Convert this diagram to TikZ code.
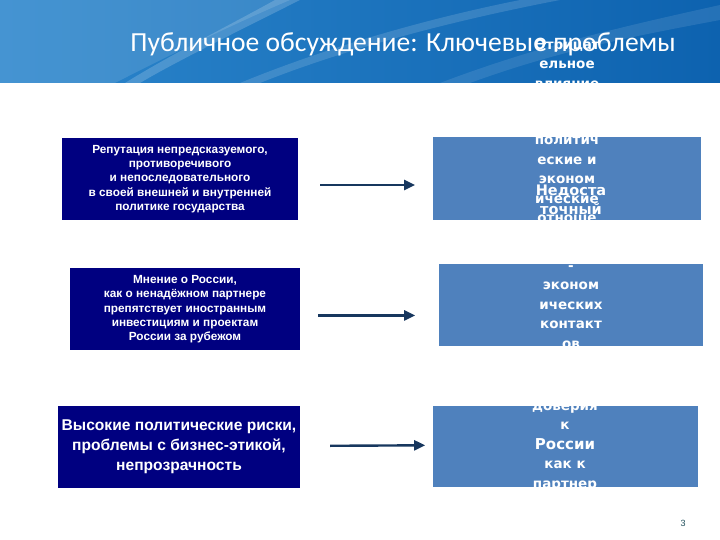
\documentclass[tikz,border=0pt]{standalone}
\usepackage{fontspec}
\usepackage{xcolor}
\usepackage{tikz}
\usetikzlibrary{positioning,arrows.meta}
\newfontfamily\titlefont{Carlito}
\newfontfamily\boxfont{Liberation Sans}
\newfontfamily\spillfont{DejaVu Sans}
\definecolor{bannerdark}{HTML}{0D62AF}
\definecolor{bannerlight}{HTML}{2C86CC}
\definecolor{problemnavy}{HTML}{000080}
\definecolor{effectblue}{HTML}{4F81BD}
\definecolor{arrowblue}{HTML}{17375E}
\definecolor{pagegreen}{HTML}{1F4E5A}

\begin{document}
\begin{tikzpicture}[
  x=1pt, y=-1pt,
  node distance=48pt and 135pt,
  problem/.style={fill=problemnavy, text=white, align=center, inner sep=0pt, minimum height=82pt},
  effect/.style={fill=effectblue, inner sep=0pt, minimum height=82pt},
  spill/.style={text=white, align=center, inner sep=0pt, font=\spillfont\bfseries\fontsize{13.5}{19.4}\selectfont},
  arrow/.style={-{Triangle[length=11pt,width=10pt]}, line width=2.4pt, draw=arrowblue}
]
\useasboundingbox (0,0) rectangle (720,540);

\fill[left color=bannerlight, right color=bannerdark] (0,0) rectangle (720,83);
\fill[white, opacity=0.12] (290,0) .. controls (220,30) and (160,60) .. (115,83) -- (0,83) -- (0,0) -- cycle;
\fill[white, opacity=0.18] (300,0) .. controls (230,35) and (170,65) .. (140,83) -- (125,83) .. controls (170,55) and (230,25) .. (275,0) -- cycle;
\fill[white, opacity=0.14] (560,0) .. controls (430,25) and (330,55) .. (260,83) -- (240,83) .. controls (320,50) and (420,20) .. (520,0) -- cycle;
\fill[white, opacity=0.10] (720,20) .. controls (640,35) and (560,50) .. (470,83) -- (440,83) .. controls (540,45) and (630,25) .. (720,5) -- cycle;
\node[font=\titlefont\fontsize{27.6}{28}\selectfont, text=white, inner sep=0pt] (title) at (403,44) {Публичное обсуждение: Ключевые проблемы};

\node[problem, minimum width=236pt, font=\boxfont\bfseries\fontsize{11.8}{14.4}\selectfont] (rep) at (180,179)
  {Репутация непредсказуемого,\\противоречивого\\и непоследовательного\\в своей внешней и внутренней\\политике государства};
\node[problem, minimum width=230pt, font=\boxfont\bfseries\fontsize{11.8}{14.3}\selectfont, below=48pt of rep, xshift=5pt] (opinion)
  {Мнение о России,\\как о ненадёжном партнере\\препятствует иностранным\\инвестициям и проектам\\России за рубежом};
\node[problem, minimum width=242pt, font=\boxfont\bfseries\fontsize{15.6}{20}\selectfont, below=55pt of opinion, xshift=-6pt] (risks)
  {Высокие политические риски,\\проблемы с бизнес-этикой,\\непрозрачность};

\node[effect, minimum width=268pt, minimum height=83pt, right=135pt of rep] (impact) {};
\node[spill] (impactTop) at (567,64) {Отрицат\\ельное\\влияние};
\node[spill] (impactText) at (567,180) {политич\\еские и\\эконом\\ические\\отноше};
\node[effect, minimum width=264pt, right=139pt of opinion, yshift=4pt] (trade) {};
\node[spill, font=\spillfont\fontsize{14.5}{19.5}\selectfont\bfseries] (tradeTop) at (571,200) {Недоста\\точный};
\node[spill] (tradeText) at (571,307) {-\\эконом\\ических\\контакт\\ов};
\node[effect, minimum width=265pt, minimum height=81pt, right=133pt of risks] (trust) {};
\node[spill] (trustText) at (565,447) {доверия\\к\\{\fontsize{15}{19.4}\selectfont России}\\как к\\партнер};

\draw[arrow] ([shift={(22pt,-6pt)}]rep.east) -- ([shift={(-18pt,-6pt)}]impact.west);
\draw[arrow] ([shift={(18pt,-6pt)}]opinion.east) -- ([shift={(-24pt,-10pt)}]trade.west);
\draw[arrow] ([shift={(30pt,1pt)}]risks.east) -- ([shift={(-8pt,1.5pt)}]trust.west);

\node[font=\boxfont\fontsize{9}{9}\selectfont, text=pagegreen] (pagenum) at (683,523) {3};
\end{tikzpicture}
\end{document}
